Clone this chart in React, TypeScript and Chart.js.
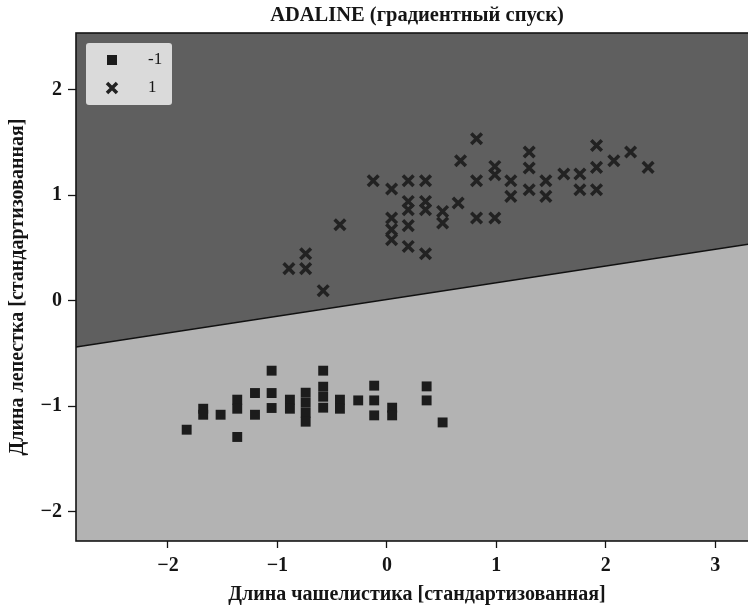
import React, { useEffect, useRef } from "react";
import { Chart, registerables } from "chart.js";

Chart.register(...registerables);

// Class -1 (squares): standardized sepal length / petal length
const negX = [-1.829, -1.678, -1.678, -1.519, -1.367, -1.367, -1.367, -1.205, -1.205, -1.053, -1.053, -1.053, -0.886, -0.886, -0.742, -0.742, -0.742, -0.742, -0.582, -0.582, -0.582, -0.582, -0.429, -0.429, -0.262, -0.116, -0.116, -0.116, 0.048, 0.048, 0.363, 0.363, 0.509];
const negY = [-1.224, -1.025, -1.082, -1.082, -0.939, -1.025, -1.293, -0.876, -1.082, -0.664, -0.876, -1.018, -0.939, -1.025, -0.873, -0.968, -1.063, -1.148, -0.664, -0.816, -0.911, -1.015, -0.939, -1.025, -0.946, -0.806, -0.946, -1.088, -1.015, -1.088, -0.813, -0.946, -1.155];

// Class 1 (crosses)
const posX = [-0.125, 0.043, 0.195, 0.353, 0.195, 0.195, 0.353, 0.353, 0.509, 0.509, 0.651, -0.429, 0.043, 0.043, 0.043, 0.195, 0.195, 0.353, -0.742, -0.895, -0.742, -0.582, 0.819, 0.673, 0.986, 0.986, 1.3, 1.3, 0.819, 1.132, 1.452, 1.616, 1.763, 1.915, 1.915, 2.073, 2.226, 2.386, 1.3, 1.132, 1.452, 1.763, 1.915, 0.819, 0.986];
const posY = [1.138, 1.06, 1.138, 1.138, 0.942, 0.863, 0.942, 0.863, 0.847, 0.737, 0.927, 0.721, 0.785, 0.674, 0.579, 0.712, 0.515, 0.446, 0.446, 0.304, 0.304, 0.095, 1.537, 1.328, 1.274, 1.195, 1.411, 1.259, 1.138, 1.138, 1.138, 1.202, 1.202, 1.473, 1.265, 1.328, 1.411, 1.265, 1.053, 0.99, 0.99, 1.053, 1.053, 0.785, 0.785];

// Decision boundary (ends of the separating line)
const boundaryX = [-2.84, 3.39];
const boundaryY = [-0.44, 0.55];

const xRange = [-2.84, 3.39];
const yRange = [-2.28, 2.54];

const legendLabels = ["-1", "1"];
const titleText = "ADALINE (градиентный спуск)";
const xTitle = "Длина чашелистика [стандартизованная]";
const yTitle = "Длина лепестка [стандартизованная]";

const FONT = "'Liberation Serif', 'DejaVu Serif', serif";
const INK = "#151515";

function zip(xs: number[], ys: number[]) {
  return xs.map((x, i) => ({ x, y: ys[i] }));
}

const framePlugin = {
  id: "frameTitleLegend",
  afterDatasetsDraw(chart: any) {
    const { ctx, chartArea } = chart;
    const { left, top, right, bottom } = chartArea;
    ctx.save();
    // frame
    ctx.strokeStyle = INK;
    ctx.lineWidth = 1.6;
    ctx.strokeRect(left, top, right - left, bottom - top);

    // legend
    const x0 = left + 10;
    const y0 = top + 10;
    ctx.fillStyle = "#dadada";
    ctx.beginPath();
    (ctx as any).roundRect(x0, y0, 86, 62, 3);
    ctx.fill();
    // square marker
    ctx.fillStyle = "#1c1c1c";
    ctx.fillRect(x0 + 26 - 5, y0 + 17 - 5, 10, 10);
    // cross marker
    ctx.strokeStyle = "#222";
    ctx.lineWidth = 3.5;
    const cx = x0 + 26;
    const cy = y0 + 45;
    const d = 5;
    ctx.beginPath();
    ctx.moveTo(cx - d, cy - d);
    ctx.lineTo(cx + d, cy + d);
    ctx.moveTo(cx + d, cy - d);
    ctx.lineTo(cx - d, cy + d);
    ctx.stroke();
    ctx.fillStyle = INK;
    ctx.font = `17px ${FONT}`;
    ctx.textBaseline = "middle";
    ctx.textAlign = "left";
    ctx.fillText(legendLabels[0], x0 + 62, y0 + 17);
    ctx.fillText(legendLabels[1], x0 + 62, y0 + 45);

    // title centred on the plot area
    ctx.font = `bold 20.5px ${FONT}`;
    ctx.textAlign = "center";
    ctx.textBaseline = "alphabetic";
    ctx.fillText(titleText, (left + right) / 2, 21);
    ctx.restore();
  },
};

export default function App() {
  const ref = useRef<HTMLCanvasElement | null>(null);

  useEffect(() => {
    if (!ref.current) return;
    const tickFmt = (v: any) => {
      const n = Number(v);
      return n < 0 ? "\u2212" + Math.abs(n) : String(n);
    };
    const chart = new Chart(ref.current, {
      type: "scatter",
      data: {
        datasets: [
          {
            label: "-1",
            data: zip(negX, negY),
            pointStyle: "rect",
            radius: 7,
            backgroundColor: "#1c1c1c",
            borderWidth: 0,
            order: 0,
          } as any,
          {
            label: "1",
            data: zip(posX, posY),
            pointStyle: "crossRot",
            radius: 7.5,
            borderColor: "#222",
            backgroundColor: "#222",
            borderWidth: 3.5,
            order: 1,
          } as any,
          {
            type: "line",
            label: "boundary-low",
            data: zip(boundaryX, boundaryY),
            fill: "start",
            backgroundColor: "#b3b3b3",
            borderColor: "#111",
            borderWidth: 1.6,
            pointRadius: 0,
            order: 5,
          } as any,
          {
            type: "line",
            label: "boundary-high",
            data: zip(boundaryX, boundaryY),
            fill: "end",
            backgroundColor: "#5f5f5f",
            borderColor: "rgba(0,0,0,0)",
            borderWidth: 0,
            pointRadius: 0,
            order: 6,
          } as any,
        ],
      },
      options: {
        animation: false,
        responsive: true,
        maintainAspectRatio: false,
        layout: { autoPadding: false, padding: { top: 33, left: 0, right: 0, bottom: 0 } },
        plugins: {
          legend: { display: false },
          title: { display: false },
          tooltip: { enabled: false },
        },
        scales: {
          x: {
            type: "linear",
            min: xRange[0],
            max: xRange[1],
            afterFit: (s: any) => {
              s.height = 66;
            },
            ticks: {
              stepSize: 1,
              includeBounds: false,
              callback: tickFmt,
              color: INK,
              padding: 6,
              font: { family: FONT, size: 20, weight: "bold" },
            },
            grid: {
              display: true,
              drawOnChartArea: false,
              drawTicks: true,
              tickLength: 7,
              tickColor: INK,
              tickWidth: 1.3,
            },
            border: { display: false },
            title: {
              display: true,
              text: xTitle,
              color: INK,
              font: { family: FONT, size: 20, weight: "bold" },
              padding: { top: 0, bottom: 0 },
            },
          },
          y: {
            type: "linear",
            min: yRange[0],
            max: yRange[1],
            afterFit: (s: any) => {
              s.width = 76;
            },
            ticks: {
              stepSize: 1,
              includeBounds: false,
              callback: tickFmt,
              color: INK,
              padding: 6,
              font: { family: FONT, size: 20, weight: "bold" },
            },
            grid: {
              display: true,
              drawOnChartArea: false,
              drawTicks: true,
              tickLength: 8,
              tickColor: INK,
              tickWidth: 1.3,
            },
            border: { display: false },
            title: {
              display: true,
              text: yTitle,
              color: INK,
              font: { family: FONT, size: 20, weight: "bold" },
              padding: { top: 6, bottom: 0 },
            },
          },
        },
      },
      plugins: [framePlugin],
    });
    return () => chart.destroy();
  }, []);

  return (
    <div
      style={{
        position: "fixed",
        left: 0,
        top: 0,
        width: 748,
        height: 607,
        overflow: "hidden",
        background: "#fff",
      }}
    >
      <div style={{ position: "relative", width: 758, height: 607 }}>
        <canvas ref={ref} />
      </div>
    </div>
  );
}
